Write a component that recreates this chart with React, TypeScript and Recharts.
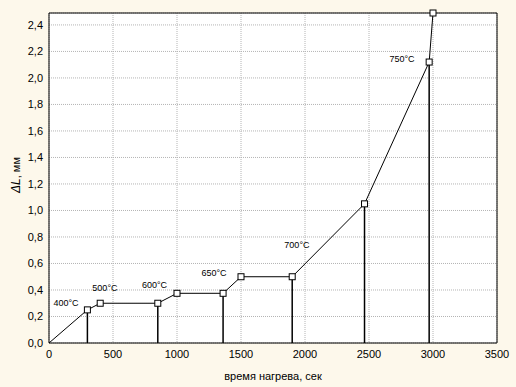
import React from 'react'
import { LineChart, Line, XAxis, YAxis, CartesianGrid, ReferenceDot } from 'recharts'

// heating curve: time (s) vs elongation (mm)
const timeSec = [0, 300, 400, 850, 1000, 1360, 1500, 1900, 2465, 2970, 3000]
const elongationMm = [0, 0.25, 0.3, 0.3, 0.375, 0.375, 0.5, 0.5, 1.05, 2.12, 2.49]

// points that get a vertical drop line to the axis
const dropIndices = [1, 3, 5, 7, 8, 9]

// temperature annotations (anchored in data units)
const tempLabels = ['400°C', '500°C', '600°C', '650°C', '700°C', '750°C']
const labelTime = [133, 437, 824, 1289, 1937, 2758]
const labelMm = [0.3, 0.415, 0.438, 0.528, 0.743, 2.143]

const xTicks = [0, 500, 1000, 1500, 2000, 2500, 3000, 3500]
const yTicks = [0, 0.2, 0.4, 0.6, 0.8, 1.0, 1.2, 1.4, 1.6, 1.8, 2.0, 2.2, 2.4]
const xMinor = Array.from({ length: 36 }, (_, i) => i * 100)
const yMinor = Array.from({ length: 25 }, (_, i) => +(i * 0.1).toFixed(1))

const X_DOMAIN: [number, number] = [0, 3500]
const Y_DOMAIN: [number, number] = [0, 2.49]

const curve = timeSec.map((t, i) => ({ t, mm: elongationMm[i] }))
const drops = dropIndices.map(i => [
  { t: timeSec[i], mm: 0 },
  { t: timeSec[i], mm: elongationMm[i] },
])

// hollow square marker, none at the origin
const SquareDot = (props: any) => {
  const { cx, cy, index } = props
  if (cx == null || cy == null || index === 0) return <g key={index} />
  return <rect key={index} x={cx - 3} y={cy - 3} width={6} height={6} fill="#fff" stroke="#000" strokeWidth={1} />
}

const YTitle = (props: any) => {
  const { viewBox } = props
  const cx = viewBox.x + 16
  const cy = 175
  return (
    <text x={cx} y={cy} transform={`rotate(-90 ${cx} ${cy})`} textAnchor="middle" dominantBaseline="central" fill="#000">
      <tspan fontStyle="italic" fontSize={12}>ΔL</tspan>
      <tspan fontSize={11}>, мм</tspan>
    </text>
  )
}

const fmtY = (v: number) => v.toFixed(1).replace('.', ',')

export default function App() {
  return (
    <div style={{ position: 'absolute', left: 0, top: 0, width: 516, height: 387, background: '#fdf8eb', fontFamily: '"Liberation Sans", Arial, sans-serif' }}>
      <LineChart width={516} height={387} margin={{ top: 13, right: 19, left: 0, bottom: 0 }}>
        <CartesianGrid fill="#fff" stroke="#b4b4b4" strokeDasharray="1 1" />
        <XAxis
          dataKey="t"
          type="number"
          domain={X_DOMAIN}
          ticks={xTicks}
          height={44}
          tickLine={false}
          axisLine={false}
          tickSize={4}
          tickMargin={3}
          tick={{ fill: '#000', fontSize: 11 }}
          label={{ value: 'время нагрева, сек', position: 'insideBottom', offset: 7, fill: '#000', fontSize: 11 }}
        />
        <YAxis
          type="number"
          domain={Y_DOMAIN}
          ticks={yTicks}
          width={49}
          tickLine={false}
          axisLine={false}
          tickSize={3}
          tickMargin={3}
          tickFormatter={fmtY}
          tick={{ fill: '#000', fontSize: 11 }}
          label={<YTitle />}
        />
        <XAxis xAxisId="bottomFrame" orientation="bottom" mirror type="number" domain={X_DOMAIN} ticks={xMinor} tick={false} tickSize={4} stroke="#000" />
        <XAxis xAxisId="topFrame" orientation="top" mirror type="number" domain={X_DOMAIN} ticks={xMinor} tick={false} tickSize={4} stroke="#000" />
        <YAxis yAxisId="leftFrame" orientation="left" mirror type="number" domain={Y_DOMAIN} ticks={yMinor} tick={false} tickSize={4} stroke="#000" />
        <YAxis yAxisId="rightFrame" orientation="right" mirror type="number" domain={Y_DOMAIN} ticks={yMinor} tick={false} tickSize={4} stroke="#000" />
        {drops.map((d, i) => (
          <Line key={'drop' + i} data={d} dataKey="mm" type="linear" stroke="#000" strokeWidth={1.5} dot={false} isAnimationActive={false} />
        ))}
        <Line data={curve} dataKey="mm" type="linear" stroke="#000" strokeWidth={1} dot={SquareDot} isAnimationActive={false} />
        {tempLabels.map((txt, i) => (
          <ReferenceDot
            key={txt}
            x={labelTime[i]}
            y={labelMm[i]}
            r={1}
            fill="none"
            stroke="none"
            label={{ value: txt, position: 'center', fontSize: 9, fill: '#000' }}
          />
        ))}
      </LineChart>
    </div>
  )
}
